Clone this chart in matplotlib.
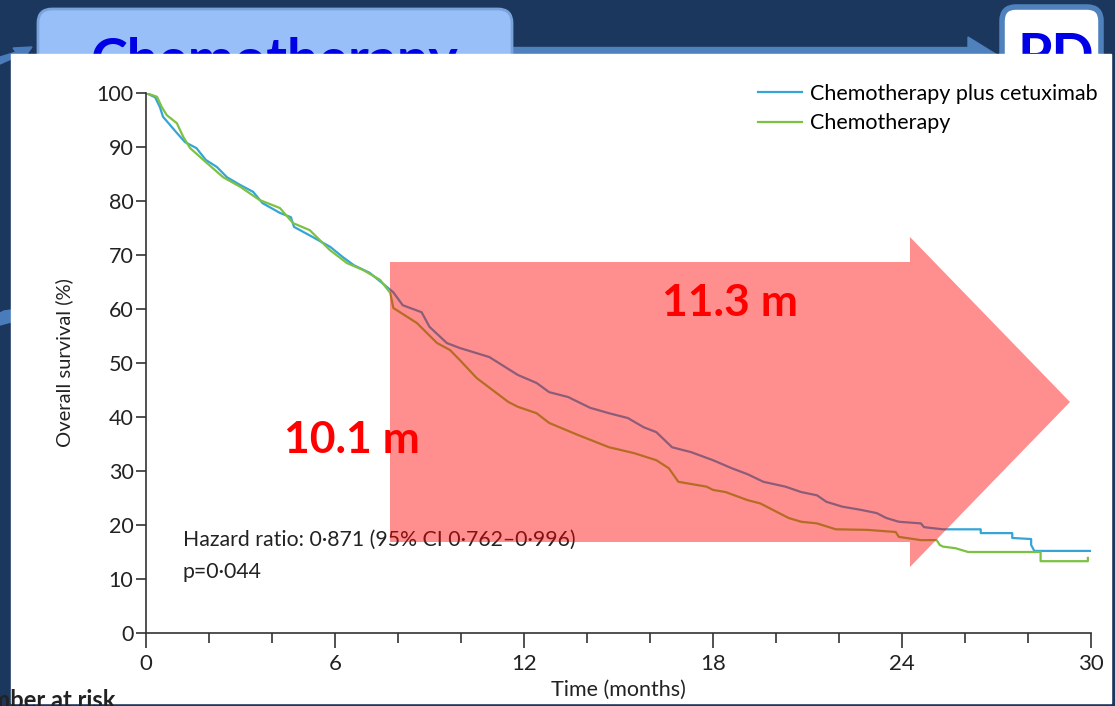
import matplotlib
matplotlib.use("Agg")
import matplotlib.pyplot as plt
from matplotlib.patches import Rectangle, FancyBboxPatch, Polygon

plt.rcParams['font.family'] = ['Lato', 'DejaVu Sans']

# Kaplan-Meier curves (months, % surviving)
# repeated times mark the visible drops in the flat tail
cetux_t = [0, 0.29, 0.44, 0.54, 0.76, 0.98, 1.24, 1.6, 1.9, 2.25, 2.57, 2.98, 3.4, 3.7,
           4.25, 4.6, 4.7, 5.3, 5.85, 6.25, 6.6, 7.1, 7.5, 7.85, 8.15, 8.75, 9.0, 9.55,
           9.95, 10.9, 11.2, 11.8, 12.4, 12.8, 13.4, 14.1, 14.7, 15.3, 15.8, 16.2, 16.7,
           17.3, 18.0, 18.6, 19.1, 19.6, 20.3, 20.8, 21.3, 21.6, 22.1, 22.7, 23.2, 23.5,
           23.9, 24.6, 24.7, 25.3, 26.5, 26.5, 27.5, 27.5, 28.1, 28.1, 28.2, 30.0]
cetux_s = [100, 99.2, 97.4, 95.6, 94.1, 92.6, 90.9, 89.8, 87.6, 86.3, 84.4, 83.0, 81.7, 79.6,
           77.8, 77.0, 75.2, 73.3, 71.5, 69.6, 68.1, 66.7, 64.8, 63.1, 60.7, 59.4, 56.7, 53.7,
           52.8, 51.1, 50.0, 47.8, 46.3, 44.6, 43.7, 41.7, 40.7, 39.8, 38.1, 37.2, 34.4,
           33.5, 32.0, 30.5, 29.4, 28.0, 27.1, 26.1, 25.5, 24.3, 23.4, 22.8, 22.2, 21.3,
           20.6, 20.3, 19.6, 19.2, 19.2, 18.5, 18.5, 17.6, 17.4, 16.3, 15.2, 15.2]

chemo_t = [0, 0.35, 0.5, 0.66, 0.98, 1.19, 1.4, 1.9, 2.45, 3.0, 3.6, 4.25, 4.67, 5.2, 5.84,
           6.38, 6.9, 7.43, 7.75, 7.8, 7.85, 8.6, 9.24, 9.65, 9.97, 10.5, 11.0, 11.5, 11.8,
           12.4, 12.8, 13.7, 14.7, 15.5, 16.2, 16.6, 16.9, 17.8, 18.0, 18.4, 19.1, 19.5,
           19.9, 20.4, 20.8, 21.3, 21.9, 22.9, 23.8, 23.9, 24.6, 25.1, 25.2, 25.3, 25.7,
           26.1, 28.4, 28.4, 29.9, 29.9]
chemo_s = [100, 99.3, 97.4, 95.9, 94.4, 91.8, 89.8, 87.2, 84.4, 82.6, 80.2, 78.7, 75.9, 74.6, 70.9,
           68.5, 67.2, 65.4, 63.0, 61.7, 60.2, 57.4, 53.7, 52.4, 50.5, 47.2, 45.0, 42.8, 41.9,
           40.7, 38.9, 36.7, 34.4, 33.3, 32.0, 30.5, 28.0, 27.1, 26.5, 26.1, 24.6, 24.0,
           22.8, 21.3, 20.6, 20.3, 19.2, 19.1, 18.7, 17.8, 17.2, 17.2, 16.3, 16.0, 15.7,
           15.0, 15.0, 13.3, 13.3, 13.9]

series_names = ['Chemotherapy plus cetuximab', 'Chemotherapy']
median_labels = ['11.3 m', '10.1 m']
hr_text = 'Hazard ratio: 0\u00b7871 (95% CI 0\u00b7762\u20130\u00b7996)'
p_text = 'p=0\u00b7044'

W, H = 1115, 706
navy = '#1b375e'
fig = plt.figure(figsize=(W / 100, H / 100), dpi=100, facecolor=navy)

# slide background, pixel coordinates
bg = fig.add_axes([0, 0, 1, 1], zorder=0)
bg.set_xlim(0, W)
bg.set_ylim(H, 0)
bg.axis('off')
bg.add_patch(Rectangle((0, 0), W, H, color=navy, zorder=0))
bg.add_patch(Rectangle((505, 47), 475, 20, color='#4f81bd', zorder=1))
bg.add_patch(Polygon([(968, 37), (1002, 58), (968, 80)], color='#4f81bd', zorder=1))
bg.add_patch(FancyBboxPatch((38, 9), 474, 80, boxstyle='round,pad=0,rounding_size=14',
                            fc='#98bff8', ec='#7aa3dc', lw=2, zorder=2))
bg.text(275, 78, 'Chemotherapy', color='#0000e6', fontsize=40, fontweight='bold',
        ha='center', va='baseline', zorder=3)
bg.add_patch(FancyBboxPatch((1002, 7), 99, 80, boxstyle='round,pad=0,rounding_size=14',
                            fc='white', ec='#4f81bd', lw=4, zorder=2))
bg.text(1056, 73, 'PD', color='#0000e6', fontsize=40, fontweight='bold',
        ha='center', va='baseline', zorder=3)
bg.add_patch(Polygon([(0, 57), (16, 52), (13, 48), (32, 47), (24, 58), (20, 55), (0, 64)],
                     color='#4a7cbc', zorder=1))
bg.add_patch(Polygon([(0, 313), (4, 311), (11, 310), (11, 322), (0, 325)],
                     color='#4a7cbc', zorder=4))
panel = Rectangle((11, 54), 1100, 649, color='white', zorder=5)
bg.add_patch(panel)
risk = bg.text(-41, 708, 'Number at risk', fontsize=17, fontweight='bold', color='#222222',
               ha='left', va='baseline', zorder=6)
risk.set_clip_path(panel)

# survival axes
ax = fig.add_axes([146 / W, (H - 633) / H, (1091 - 146) / W, (633 - 93) / H], zorder=1)
ax.patch.set_visible(False)
ax.plot(cetux_t, cetux_s, color='#35a5d6', lw=1.6, label=series_names[0])
ax.plot(chemo_t, chemo_s, color='#7cc242', lw=1.6, label=series_names[1])
ax.set_xlim(0, 30)
ax.set_ylim(0, 100)
for s in ['top', 'right']:
    ax.spines[s].set_visible(False)
for s in ['left', 'bottom']:
    ax.spines[s].set_color('#333333')
    ax.spines[s].set_linewidth(1.2)
ax.spines['left'].set_bounds(0, 100)
ax.spines['bottom'].set_bounds(0, 30)
ax.set_xticks(range(0, 31, 6))
ax.set_xticks(range(0, 31, 2), minor=True)
ax.set_yticks(range(0, 101, 10))
ax.tick_params(axis='x', which='major', length=11, width=1.2, color='#333333',
               labelsize=16, pad=4, labelcolor='#222222')
ax.tick_params(axis='x', which='minor', length=7, width=1.2, color='#333333')
ax.tick_params(axis='y', length=7, width=1.2, color='#333333', labelsize=15.5, pad=2,
               labelcolor='#222222')
ax.set_xlabel('Time (months)', fontsize=15.5, color='#222222', labelpad=4)
ax.set_ylabel('Overall survival (%)', fontsize=14.5, color='#222222', labelpad=17)
ax.text(1.17, 17.2, hr_text, fontsize=15.3, color='#222222', va='center')
ax.text(1.17, 11.3, p_text, fontsize=15.3, color='#222222', va='center')
ax.legend(loc='upper left', bbox_to_anchor=(758 / W, (H - 84) / H),
          bbox_transform=fig.transFigure, frameon=False, fontsize=15.5,
          handlelength=2.05, handletextpad=0.38, borderpad=0, borderaxespad=0,
          labelspacing=0.44)

# highlight arrow on top
top = fig.add_axes([0, 0, 1, 1], zorder=2)
top.set_xlim(0, W)
top.set_ylim(H, 0)
top.axis('off')
top.patch.set_visible(False)
top.add_patch(Polygon([(390, 262), (910, 262), (910, 237), (1070, 402), (910, 567),
                       (910, 542), (390, 542)], color='red', alpha=0.44, lw=0))
top.text(730, 303, median_labels[0], color='#ff0000', fontsize=32, fontweight='bold',
         ha='center', va='center')
top.text(352, 440, median_labels[1], color='#ff0000', fontsize=32, fontweight='bold',
         ha='center', va='center')

fig.savefig('out.png', dpi=100, facecolor=navy)
